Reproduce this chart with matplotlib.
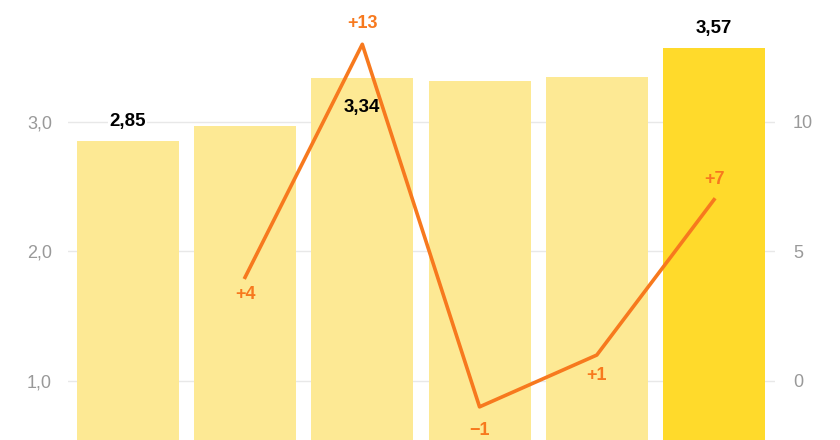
import numpy as np
import matplotlib.pyplot as plt

plt.rcParams['font.family'] = ['Liberation Sans', 'DejaVu Sans']

# data
values = [2.85, 2.97, 3.34, 3.32, 3.35, 3.57]
value_labels = ["2,85", None, "3,34", None, None, "3,57"]
label_inside = [False, False, True, False, False, False]
change_x = [1, 2, 3, 4, 5]
change = [4, 13, -1, 1, 7]
left_ticks = [1.0, 2.0, 3.0]
left_ticklabels = ["1,0", "2,0", "3,0"]
right_ticks = [0, 5, 10]

# label placement (pixels above/below the point)
change_offsets = [-17, 21, -24, -20, 20]

light = "#FDE994"
strong = "#FFDA2B"
orange = "#F7791E"
grey = "#999999"

fig = plt.figure(figsize=(8.4, 4.4), dpi=100)
ax = fig.add_axes([68 / 840, 0, 707 / 840, 1])
x = np.arange(len(values))
colors = [light] * (len(values) - 1) + [strong]
ax.bar(x, values, width=0.87, color=colors, zorder=2)
ax.set_xlim(-0.51, 5.52)
ax.set_ylim(0.544, 3.942)
ax.set_yticks(left_ticks)
ax.set_yticklabels(left_ticklabels)
ax.set_xticks([])
ax.grid(axis='y', color='#e8e8e8', linewidth=1, zorder=0)
ax.tick_params(axis='y', length=0, pad=11.5, labelsize=13, labelcolor=grey)
for s in ax.spines.values():
    s.set_visible(False)

for xi, v, lab, inside in zip(x, values, value_labels, label_inside):
    if lab is None:
        continue
    off = -30 if inside else 20
    ax.annotate(lab, (xi, v), xytext=(0, off), textcoords='offset pixels',
                ha='center', va='center', fontsize=13.5, fontweight='bold',
                color='black', zorder=5,
                bbox=dict(facecolor='white', edgecolor='none', pad=1) if not inside else None)

ax2 = ax.twinx()
ax2.plot(change_x, change, color=orange, linewidth=2.6, zorder=4)
ax2.set_ylim(-2.28, 14.71)
ax2.set_yticks(right_ticks)
ax2.set_yticklabels([str(t) for t in right_ticks])
ax2.tick_params(axis='y', length=0, pad=13, labelsize=13, labelcolor=grey)
for s in ax2.spines.values():
    s.set_visible(False)

for xi, c, off in zip(change_x, change, change_offsets):
    txt = f"{c:+d}".replace("-", "\u2212")
    ax2.annotate(txt, (xi, c), xytext=(0, off), textcoords='offset pixels',
                 ha='center', va='center', fontsize=13, fontweight='bold',
                 color=orange)

fig.savefig("out.png", dpi=100)
